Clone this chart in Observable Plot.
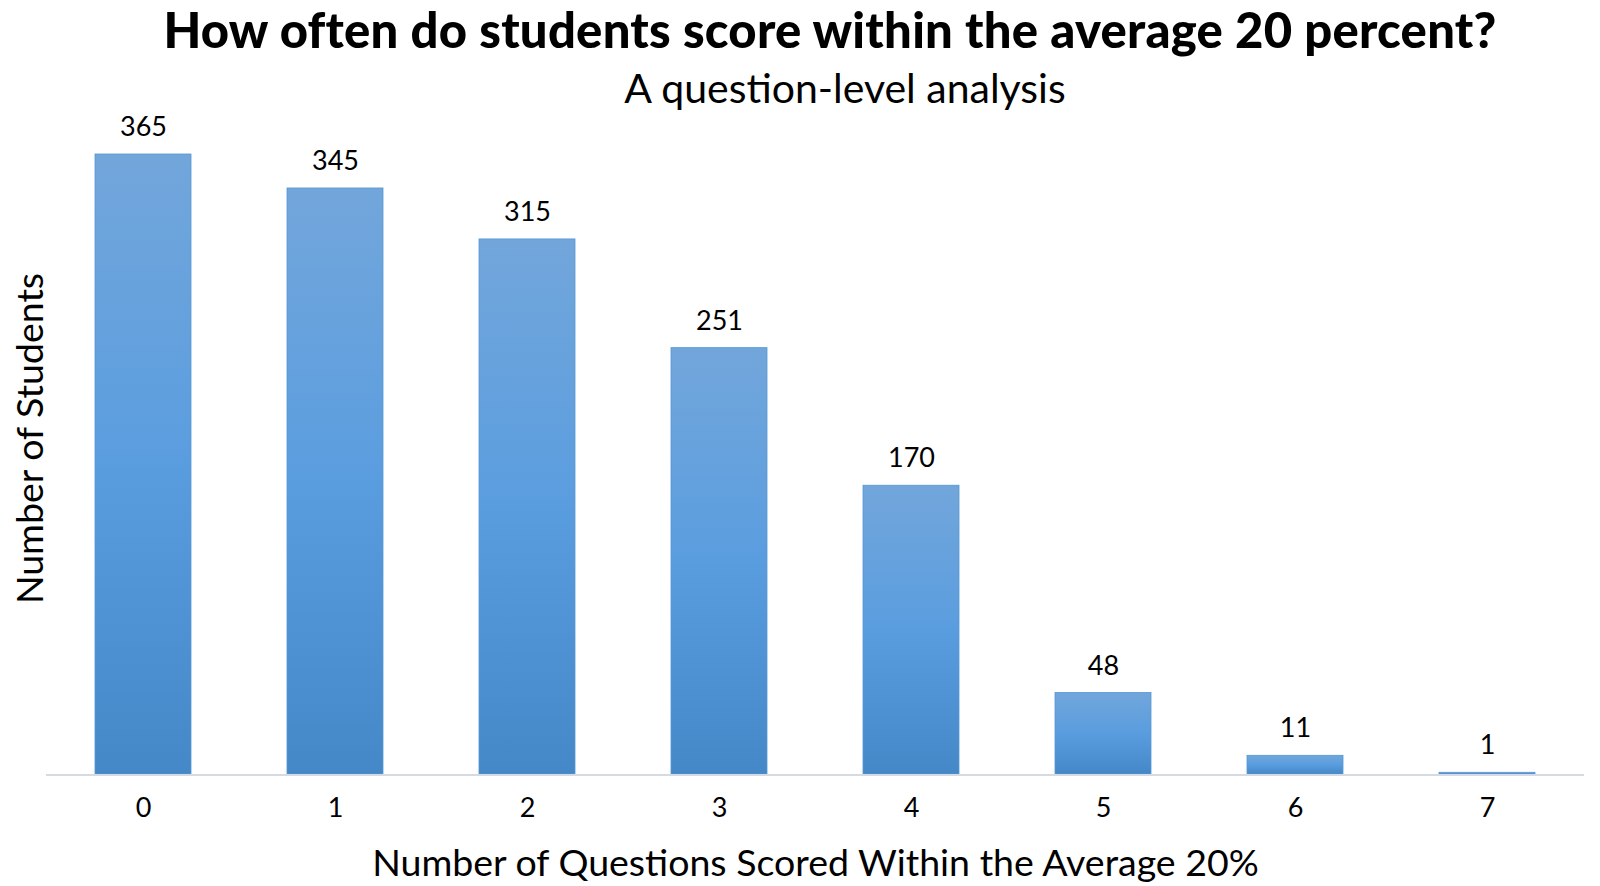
<!DOCTYPE html>
<html><head><meta charset="utf-8">
<script src="https://cdn.jsdelivr.net/npm/d3@7"></script>
<script src="https://cdn.jsdelivr.net/npm/@observablehq/plot@0.6"></script>
<style>
body{margin:0;background:#fff;font-family:Lato,sans-serif;}
#wrap{position:relative;width:1600px;height:886px;overflow:hidden;background:#fff}
#title{position:absolute;left:0;width:1660px;top:3px;line-height:52px;text-align:center;font-size:49px;font-weight:900;color:#000;white-space:nowrap;letter-spacing:0.25px}
#subtitle{position:absolute;left:0;width:1690px;top:64px;line-height:48px;text-align:center;font-size:41px;font-weight:400;color:#000;white-space:nowrap}
#chart{position:absolute;left:0;top:115px}
</style>
</head><body>
<div id="wrap">
  <div id="title">How often do students score within the average 20 percent?</div>
  <div id="subtitle">A question-level analysis</div>
  <div id="chart"></div>
</div>
<script>
const categories = ["0","1","2","3","4","5","6","7"];
const students = [365,345,315,251,170,48,11,1];
const xTitle = "Number of Questions Scored Within the Average 20%";
const yTitle = "Number of Students";
const data = categories.map((c,i)=>({q:c, n:students[i]}));

const chart = Plot.plot({
  width:1600, height:771,
  marginTop:39, marginBottom:112, marginLeft:46, marginRight:16,
  style:{fontFamily:"Lato, sans-serif", color:"#000", background:"transparent", overflow:"visible"},
  x:{domain:categories, paddingInner:0.5, paddingOuter:0.25, align:0.5, label:null},
  y:{domain:[0,365], axis:null},
  marks:[
    Plot.barY(data,{x:"q", y:"n", fill:"url(#barGrad)", stroke:"#5596d3", strokeWidth:0.8}),
    Plot.ruleY([0], {stroke:"#d6dbe3", strokeWidth:2, dy:0.5}),
    Plot.text(data,{x:"q", y:"n", text:d=>String(d.n), dy:-27, fontSize:27, fill:"#000"}),
    Plot.axisX({tickSize:0, tickPadding:23, fontSize:27, fill:"#000", label:null}),
    Plot.text([xTitle], {text:d=>d, frameAnchor:"bottom", dy:101, fontSize:37.5, fill:"#000"}),
    Plot.text([yTitle], {text:d=>d, frameAnchor:"left", textAnchor:"middle", rotate:-90, dx:-16, dy:-26, fontSize:37.5, fill:"#000"})
  ]
});

const defs = d3.select(chart).insert("defs", ":first-child");
const grad = defs.append("linearGradient").attr("id","barGrad")
  .attr("x1",0).attr("y1",0).attr("x2",0).attr("y2",1);
grad.append("stop").attr("offset","0%").attr("stop-color","#72a6db");
grad.append("stop").attr("offset","50%").attr("stop-color","#5a9ddf");
grad.append("stop").attr("offset","100%").attr("stop-color","#4488c8");

document.getElementById("chart").appendChild(chart);
</script>
</body></html>
